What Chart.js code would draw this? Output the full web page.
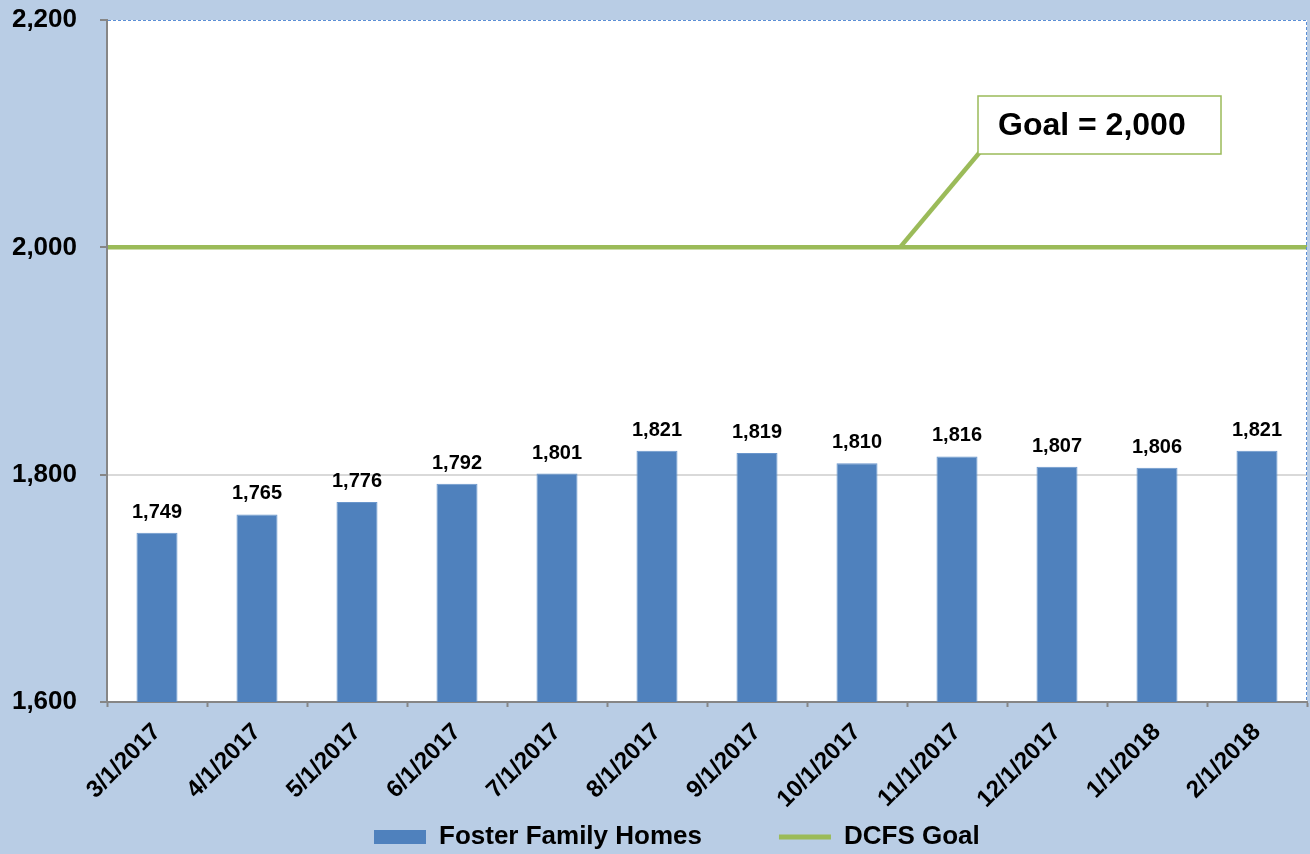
<!DOCTYPE html>
<html><head><meta charset="utf-8">
<script src="https://cdn.jsdelivr.net/npm/chart.js@4.4.0/dist/chart.umd.min.js"></script>
<style>html,body{margin:0;padding:0;background:#b9cde5;} #wrap{width:1310px;height:854px;position:relative;}</style>
</head><body><div id="wrap"><canvas id="c"></canvas></div>
<script>
const categories = ['3/1/2017','4/1/2017','5/1/2017','6/1/2017','7/1/2017','8/1/2017','9/1/2017','10/1/2017','11/1/2017','12/1/2017','1/1/2018','2/1/2018'];
const fosterHomes = [1749,1765,1776,1792,1801,1821,1819,1810,1816,1807,1806,1821];
const goalValue = 2000;
const goalLabel = 'Goal = 2,000';
const yTicks = [1600,1800,2000,2200];
const seriesNames = ['Foster Family Homes','DCFS Goal'];

const FONT = '"Liberation Sans", Arial, sans-serif';
const BLUE = '#4f81bd', GREEN = '#9bbb59', AXIS = '#868686';

const bgPlugin = {
  id:'bg',
  beforeDraw(chart){
    const {ctx, chartArea:a} = chart;
    ctx.save();
    ctx.fillStyle = '#b9cde5'; ctx.fillRect(0,0,chart.width,chart.height);
    ctx.fillStyle = '#ffffff'; ctx.fillRect(a.left,a.top,a.right-a.left,a.bottom-a.top);
    ctx.restore();
  },
  afterDraw(chart){
    const {ctx, chartArea:a} = chart;
    ctx.save();
    ctx.strokeStyle = '#5b8fd6'; ctx.lineWidth = 1; ctx.setLineDash([3,2]);
    ctx.beginPath();
    ctx.moveTo(a.left+1, a.top+0.5); ctx.lineTo(a.right-0.5, a.top+0.5); ctx.lineTo(a.right-0.5, a.bottom);
    ctx.stroke();
    ctx.restore();
  }
};

const legendPos = {
  id:'legendPos',
  afterLayout(chart){
    const l = chart.legend; if (!l) return;
    l.left = 297; l.right = 1307; l.top = 747; l.bottom = 854; l.height = 107; l.width = 1010;
  }
};

const labelPlugin = {
  id:'barLabels',
  afterDatasetsDraw(chart){
    const {ctx, chartArea:a, scales:{y}} = chart;
    const meta = chart.getDatasetMeta(0);
    ctx.save();
    // goal line across the plot area at the goal value
    const gy = y.getPixelForValue(goalValue);
    ctx.strokeStyle = GREEN; ctx.lineWidth = 4.5; ctx.lineCap = 'butt';
    ctx.beginPath(); ctx.moveTo(a.left + 1, gy); ctx.lineTo(a.right, gy); ctx.stroke();
    // value labels
    ctx.font = 'bold 20px ' + FONT; ctx.fillStyle = '#000'; ctx.textAlign = 'center'; ctx.textBaseline = 'alphabetic';
    meta.data.forEach((bar,i)=>{ ctx.fillText(fosterHomes[i].toLocaleString('en-US'), bar.x, bar.y - 15); });
    // goal callout
    const bx = a.left + 871, by = a.top + 76, bw = 243, bh = 58;
    ctx.strokeStyle = GREEN; ctx.lineWidth = 4.5;
    ctx.beginPath(); ctx.moveTo(a.left + 793, gy); ctx.lineTo(bx + 2, by + bh - 2); ctx.stroke();
    ctx.fillStyle = '#fff'; ctx.fillRect(bx, by, bw, bh);
    ctx.lineWidth = 1.5; ctx.strokeRect(bx, by, bw, bh);
    ctx.fillStyle = '#000'; ctx.font = 'bold 32px ' + FONT; ctx.textAlign = 'left'; ctx.textBaseline = 'middle';
    ctx.fillText(goalLabel, bx + 20, by + bh/2 + 1);
    ctx.restore();
  }
};

new Chart(document.getElementById('c'), {
  type:'bar',
  data:{
    labels: categories,
    datasets:[
      { label: seriesNames[0], data: fosterHomes, backgroundColor: BLUE, borderColor:'#6a96cc', borderWidth:1,
        categoryPercentage:1, barPercentage:0.41 }
    ]
  },
  options:{
    responsive:true, maintainAspectRatio:false, animation:false,
    layout:{ padding:{ left:0, right:3, top:20, bottom:0 } },
    plugins:{
      tooltip:{enabled:false},
      legend:{
        position:'bottom', align:'start', maxHeight:36,
        labels:{
          usePointStyle:true, pointStyleWidth:52, boxHeight:14, padding:77, color:'#000',
          font:{ size:26, weight:'bold', family:FONT },
          generateLabels(){
            return seriesNames.map((name,i)=>({
              text: name, fillStyle: i ? GREEN : BLUE, strokeStyle: i ? GREEN : BLUE,
              lineWidth: i ? 5 : 0, pointStyle: i ? 'line' : 'rect', datasetIndex:0, hidden:false, fontColor:'#000'
            }));
          }
        }
      }
    },
    scales:{
      x:{
        grid:{ offset:true, drawOnChartArea:false, drawTicks:true, tickLength:5, tickColor:AXIS, tickWidth:2 },
        border:{ color:AXIS, width:2 },
        ticks:{ minRotation:45, maxRotation:45, autoSkip:false, color:'#000', padding:11, font:{ size:24, weight:'bold', family:FONT } },
        afterFit(s){ s.height = 116; s.paddingLeft = 0; s.paddingRight = 0; }
      },
      y:{
        min:1600, max:2200,
        afterBuildTicks(s){ s.ticks = yTicks.map(v=>({value:v})); },
        grid:{
          color(c){ return (c.tick && (c.tick.value===1800 || c.tick.value===2000)) ? '#d9d9d9' : 'rgba(0,0,0,0)'; },
          tickColor:AXIS, tickLength:7, lineWidth:2, tickWidth:2
        },
        border:{ color:AXIS, width:2 },
        ticks:{ color:'#000', padding:23, font:{ size:26, weight:'bold', family:FONT } },
        afterFit(s){ s.width = 107; s.paddingTop = 0; s.paddingBottom = 0; }
      }
    }
  },
  plugins:[bgPlugin, legendPos, labelPlugin]
});
</script>
</body></html>
